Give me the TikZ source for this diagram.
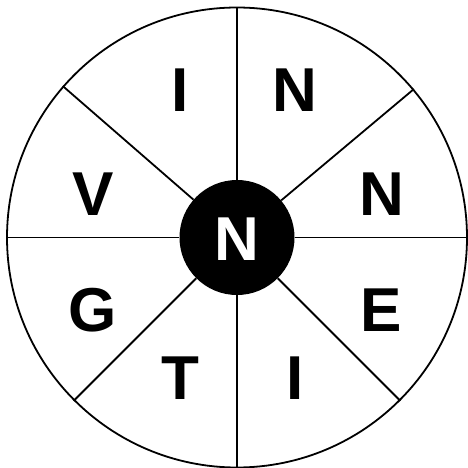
\documentclass[tikz,border=0pt]{standalone}
\usepackage{fontspec}
\setmainfont{Liberation Sans}
\usepackage{tikz}
\usetikzlibrary{positioning}

\begin{document}
\begin{tikzpicture}[
    x=1pt, y=-1pt,
    rim/.style={circle, draw, line width=1.8pt, minimum size=460pt, inner sep=0pt},
    hub/.style={circle, fill=black, minimum size=115pt, inner sep=0pt, text=white, font=\fontsize{62}{62}\selectfont\bfseries},
    spoke/.style={line width=1.8pt},
    letter/.style={inner sep=0pt, font=\fontsize{62}{62}\selectfont\bfseries}
]
    \useasboundingbox (0,0) rectangle (467,468);

    \node[rim] (rim) at (237,237.5) {};
    \node[hub] (hub) at (237,237.5) {};
    \node[inner sep=0pt, text=white, font=\fontsize{62}{62}\selectfont\bfseries] (hubl) at (237,239.5) {N};

    \draw[spoke] (hub.90)    -- (rim.90);
    \draw[spoke] (hub.40.8)  -- (rim.40.8);
    \draw[spoke] (hub.0)     -- (rim.0);
    \draw[spoke] (hub.-45)   -- (rim.-45);
    \draw[spoke] (hub.-90)   -- (rim.-90);
    \draw[spoke] (hub.-135)  -- (rim.-135);
    \draw[spoke] (hub.180)   -- (rim.180);
    \draw[spoke] (hub.139.2) -- (rim.139.2);

    \node[letter] (i1) at (180,90)    {I};
    \node[letter] (n1) at (295,90)    {N};
    \node[letter] (n2) at (381.5,194) {N};
    \node[letter] (e)  at (381.5,310) {E};
    \node[letter] (i2) at (295,378.5) {I};
    \node[letter] (t)  at (180,378.5) {T};
    \node[letter] (g)  at (93,310)    {G};
    \node[letter] (v)  at (93,194)    {V};
\end{tikzpicture}
\end{document}
